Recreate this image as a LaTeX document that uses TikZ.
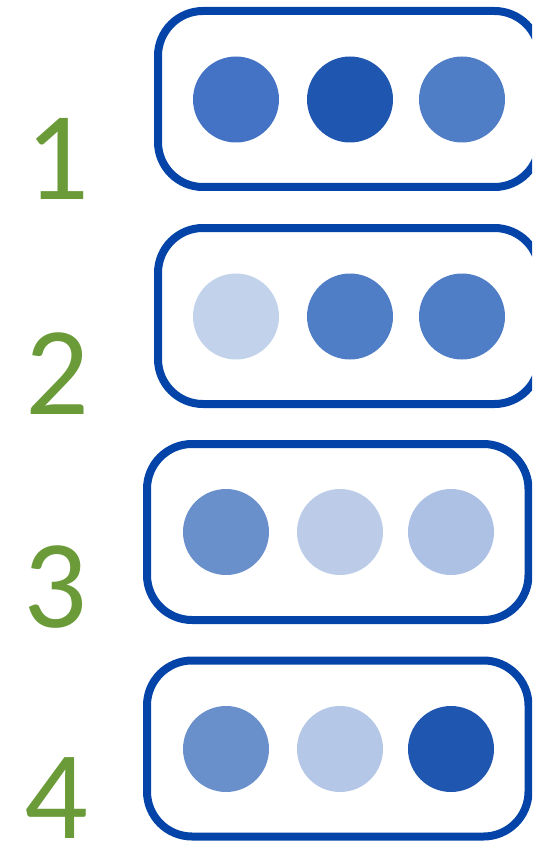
\documentclass[tikz,border=0pt]{standalone}
\usepackage{fontspec}
\setmainfont{Carlito}
\definecolor{numgreen}{RGB}{106,155,56}
\definecolor{boxblue}{RGB}{4,68,168}
\definecolor{cA}{RGB}{68,114,196}
\definecolor{cB}{RGB}{31,86,176}
\definecolor{cC}{RGB}{79,126,198}
\definecolor{cD}{RGB}{194,210,234}
\definecolor{cE}{RGB}{106,144,204}
\definecolor{cF}{RGB}{188,204,232}
\definecolor{cG}{RGB}{173,193,228}
\definecolor{cH}{RGB}{181,199,231}
\begin{document}
\begin{tikzpicture}[x=1pt,y=1pt,
  panel/.style={draw=boxblue,line width=8pt,rounded corners=45pt,minimum width=381.5pt,minimum height=176pt,inner sep=0pt},
  dot/.style={circle,minimum size=86pt,inner sep=0pt,draw=none},
  num/.style={text=numgreen,font=\fontsize{126}{126}\selectfont,anchor=base,inner sep=0pt}]
\useasboundingbox (0,0) rectangle (532,-842);
\begin{scope}
\clip (0,0) rectangle (532,-842);
\node[panel] (b1) at (348.75,-99) {};
\node[panel] (b2) at (348.75,-316) {};
\node[panel] (b3) at (337.75,-532) {};
\node[panel] (b4) at (337.75,-748.5) {};
\end{scope}
\node[dot,fill=cA] (d11) at (236,-99.5) {};
\node[dot,fill=cB] (d12) at (350,-99.5) {};
\node[dot,fill=cC] (d13) at (462,-99.5) {};
\node[dot,fill=cD] (d21) at (236,-316.5) {};
\node[dot,fill=cC] (d22) at (350,-316.5) {};
\node[dot,fill=cC] (d23) at (462,-316.5) {};
\node[dot,fill=cE] (d31) at (226,-532) {};
\node[dot,fill=cF] (d32) at (340,-532) {};
\node[dot,fill=cG] (d33) at (451,-532) {};
\node[dot,fill=cE] (d41) at (226,-749) {};
\node[dot,fill=cH] (d42) at (340,-749) {};
\node[dot,fill=cB] (d43) at (451,-749) {};
\node[num] (n1) at (57,-200) {1};
\node[num] (n2) at (57,-414) {2};
\node[num] (n3) at (55,-627) {3};
\node[num] (n4) at (56,-838) {4};
\end{tikzpicture}
\end{document}
